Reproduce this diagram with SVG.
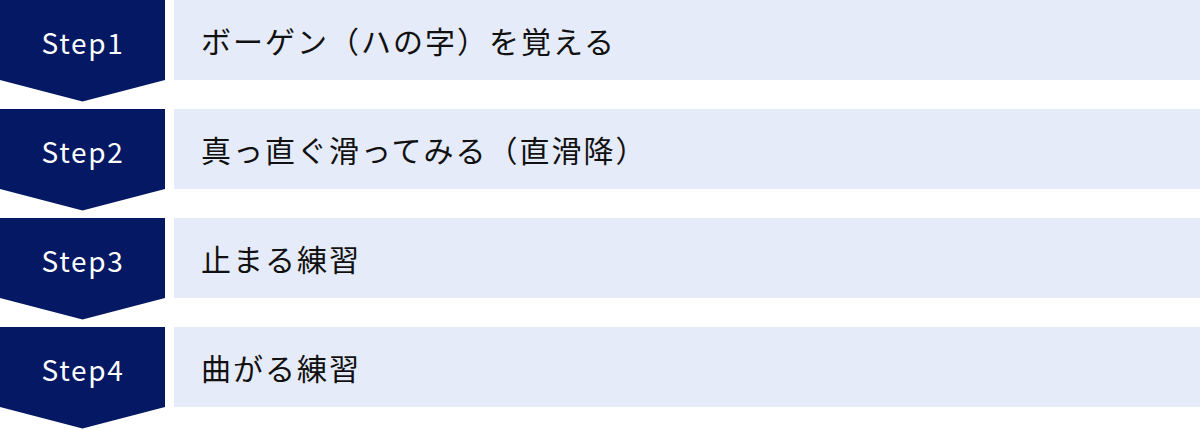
<svg xmlns="http://www.w3.org/2000/svg" width="1200" height="429" viewBox="0 0 1200 429">
<style>
.chev{fill:#041863}
.box{fill:#E5EBF8}
.step{font-family:"Noto Sans CJK JP","Noto Sans",sans-serif;font-size:28px;fill:#ffffff;letter-spacing:1.7px}
.lbl{font-family:"Noto Sans CJK JP",sans-serif;font-size:30px;fill:#111111;letter-spacing:2px}
</style>
<defs>
<path id="chevron" d="M0 0H165V80L82.5 101.5L0 80Z"/>
</defs>
<g id="step1">
<use href="#chevron" class="chev"/>
<rect class="box" x="174" y="0" width="1026" height="80"/>
<text class="step" x="83" y="42" text-anchor="middle" dominant-baseline="central">Step1</text>
<text class="lbl" x="201" y="40" dominant-baseline="central">ボーゲン（ハの字）を覚える</text>
</g>
<g id="step2" transform="translate(0,109)">
<use href="#chevron" class="chev"/>
<rect class="box" x="174" y="0" width="1026" height="80"/>
<text class="step" x="83" y="42" text-anchor="middle" dominant-baseline="central">Step2</text>
<text class="lbl" x="201" y="40" dominant-baseline="central">真っ直ぐ滑ってみる（直滑降）</text>
</g>
<g id="step3" transform="translate(0,218)">
<use href="#chevron" class="chev"/>
<rect class="box" x="174" y="0" width="1026" height="80"/>
<text class="step" x="83" y="42" text-anchor="middle" dominant-baseline="central">Step3</text>
<text class="lbl" x="201" y="40" dominant-baseline="central">止まる練習</text>
</g>
<g id="step4" transform="translate(0,327)">
<use href="#chevron" class="chev"/>
<rect class="box" x="174" y="0" width="1026" height="80"/>
<text class="step" x="83" y="42" text-anchor="middle" dominant-baseline="central">Step4</text>
<text class="lbl" x="201" y="40" dominant-baseline="central">曲がる練習</text>
</g>
<g id="connectors"/>
</svg>
